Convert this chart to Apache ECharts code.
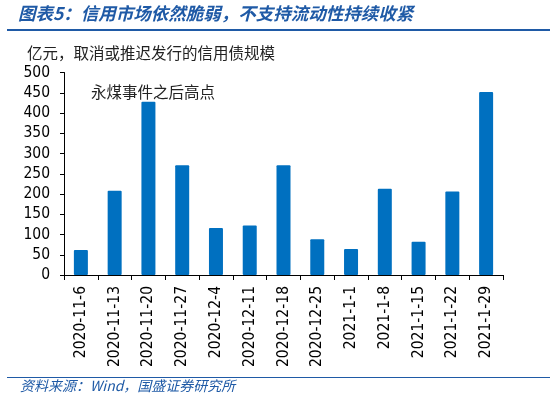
<!DOCTYPE html>
<html><head><meta charset="utf-8">
<script src="https://cdn.jsdelivr.net/npm/echarts@6/dist/echarts.min.js"></script>
<style>html,body{margin:0;padding:0;background:#fff}#c{width:550px;height:399px}</style>
</head><body><div id="c"></div>
<script>
const categories = ['2020-11-6','2020-11-13','2020-11-20','2020-11-27','2020-12-4','2020-12-11','2020-12-18','2020-12-25','2021-1-1','2021-1-8','2021-1-15','2021-1-22','2021-1-29'];
const values = [62, 208, 428, 271, 116, 122, 271, 88, 64, 213, 82, 206, 452];
const titleText = '图表5：信用市场依然脆弱，不支持流动性持续收紧';
const unitText = '亿元，取消或推迟发行的信用债规模';
const noteText = '永煤事件之后高点';
const sourceText = '资料来源：Wind，国盛证券研究所';

const chart = echarts.init(document.getElementById('c'), null, {renderer: 'canvas'});
const blue = '#1F5AA6';
const tickFont = '"DejaVu Sans Condensed", "DejaVu Sans", sans-serif';
chart.setOption({
  animation: false,
  backgroundColor: '#fff',
  grid: {left: 64, right: 47, top: 72.5, bottom: 124, containLabel: false},
  graphic: [
    {type: 'text', left: 18, top: 5, style: {text: titleText, font: 'italic bold 17.5px "Noto Sans CJK SC"', fill: blue}},
    {type: 'rect', shape: {x: 7, y: 29, width: 543, height: 2}, style: {fill: blue}},
    {type: 'text', left: 27, top: 45, style: {text: unitText, font: '15.5px "Noto Sans CJK SC"', fill: '#222'}},
    {type: 'text', left: 91, top: 84, style: {text: noteText, font: '15.5px "Noto Sans CJK SC"', fill: '#222'}},
    {type: 'rect', shape: {x: 7, y: 377, width: 543, height: 1}, style: {fill: blue}},
    {type: 'text', left: 20, top: 379, style: {text: sourceText, font: 'italic 14px "Noto Sans CJK SC"', fill: blue}}
  ],
  xAxis: {
    type: 'category', data: categories,
    axisLine: {lineStyle: {color: '#000', width: 1}},
    axisTick: {show: true, length: 5, alignWithLabel: false, lineStyle: {color: '#000'}},
    axisLabel: {rotate: 90, interval: 0, fontSize: 15.5, fontFamily: tickFont, color: '#000', margin: 11}
  },
  yAxis: {
    type: 'value', min: 0, max: 500, interval: 50,
    axisLine: {show: true, lineStyle: {color: '#000'}},
    axisTick: {show: true, length: 4, lineStyle: {color: '#000'}},
    splitLine: {show: false},
    axisLabel: {fontSize: 15.5, fontFamily: tickFont, color: '#000', margin: 14}
  },
  series: [{
    type: 'bar', data: values, barWidth: 14,
    itemStyle: {color: '#0070C0', borderRadius: 1}
  }]
});
</script></body></html>
